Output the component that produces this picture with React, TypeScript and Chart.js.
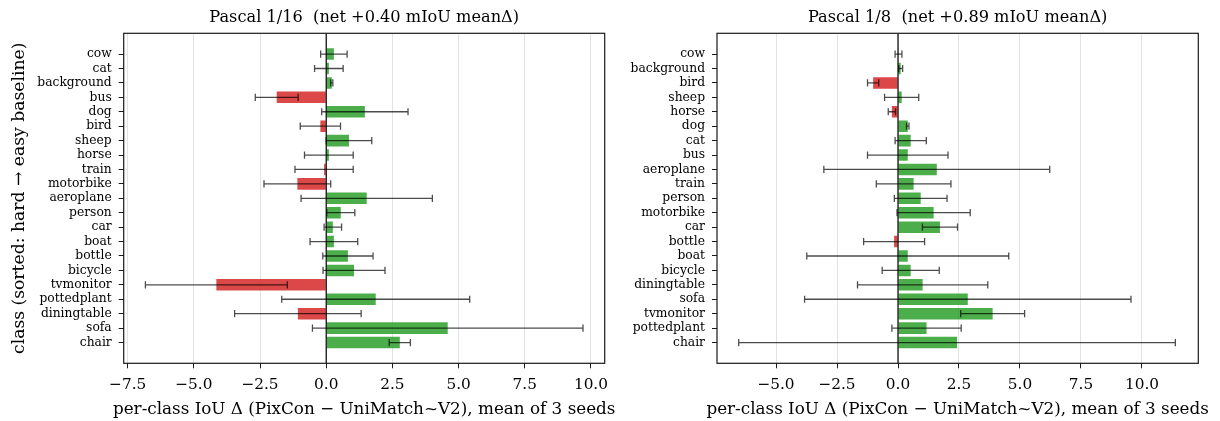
import React, { useEffect, useRef } from "react";
import { Chart, registerables } from "chart.js";

Chart.register(...registerables);

// ---- Data: Pascal 1/16 ----
const labels16 = [
  "cow", "cat", "background", "bus", "dog", "bird", "sheep", "horse", "train",
  "motorbike", "aeroplane", "person", "car", "boat", "bottle", "bicycle",
  "tvmonitor", "pottedplant", "diningtable", "sofa", "chair",
];
const mean16 = [
  0.29, 0.1, 0.21, -1.87, 1.46, -0.22, 0.86, 0.1, -0.08, -1.09, 1.53, 0.55,
  0.25, 0.29, 0.82, 1.05, -4.15, 1.87, -1.07, 4.59, 2.78,
];
const err16 = [
  0.5, 0.54, 0.04, 0.81, 1.63, 0.76, 0.86, 0.92, 1.1, 1.26, 2.48, 0.53, 0.33,
  0.9, 0.95, 1.17, 2.68, 3.55, 2.39, 5.11, 0.4,
];
const xTicks16 = [-7.5, -5, -2.5, 0, 2.5, 5, 7.5, 10];

// ---- Data: Pascal 1/8 ----
const labels8 = [
  "cow", "background", "bird", "sheep", "horse", "dog", "cat", "bus",
  "aeroplane", "train", "person", "motorbike", "car", "bottle", "boat",
  "bicycle", "diningtable", "sofa", "tvmonitor", "pottedplant", "chair",
];
const mean8 = [
  0.02, 0.11, -1.02, 0.15, -0.25, 0.4, 0.52, 0.4, 1.59, 0.64, 0.93, 1.46, 1.72,
  -0.16, 0.4, 0.52, 1.01, 2.86, 3.88, 1.17, 2.42,
];
const err8 = [
  0.14, 0.08, 0.23, 0.7, 0.15, 0.05, 0.64, 1.65, 4.63, 1.53, 1.08, 1.5, 0.72,
  1.25, 4.14, 1.17, 2.67, 6.69, 1.31, 1.42, 8.95,
];
const xTicks8 = [-5, -2.5, 0, 2.5, 5, 7.5, 10];

const title16 = "Pascal 1/16  (net +0.40 mIoU mean\u0394)";
const title8 = "Pascal 1/8  (net +0.89 mIoU mean\u0394)";
const xTitle = "per-class IoU \u0394 (PixCon \u2212 UniMatch~V2), mean of 3 seeds";
const yTitle = "class (sorted: hard \u2192 easy baseline)";

const FONT = "'DejaVu Serif', serif";
const GREEN = "rgba(44,160,44,0.85)";
const RED = "rgba(214,39,40,0.85)";

const fmt = (v: number) => {
  const s = Number(v).toFixed(1);
  return s.startsWith("-") ? "\u2212" + s.slice(1) : s;
};

const panelPlugin = {
  id: "panel",
  afterDatasetsDraw(chart: any, _args: any, opts: any) {
    const { ctx, chartArea: ca, scales } = chart;
    const x = scales.x;
    const y = scales.y;
    ctx.save();
    ctx.beginPath();
    ctx.rect(ca.left, ca.top, ca.right - ca.left, ca.bottom - ca.top);
    ctx.clip();
    // zero line
    const zx = x.getPixelForValue(0);
    ctx.strokeStyle = "#000";
    ctx.lineWidth = 1.2;
    ctx.beginPath();
    ctx.moveTo(zx, ca.top);
    ctx.lineTo(zx, ca.bottom);
    ctx.stroke();
    // error bars
    const means: number[] = opts.means;
    const errs: number[] = opts.errs;
    ctx.strokeStyle = "rgba(0,0,0,0.7)";
    ctx.lineWidth = 1.3;
    for (let i = 0; i < means.length; i++) {
      const py = y.getPixelForValue(i);
      const x1 = x.getPixelForValue(means[i] - errs[i]);
      const x2 = x.getPixelForValue(means[i] + errs[i]);
      ctx.beginPath();
      ctx.moveTo(x1, py);
      ctx.lineTo(x2, py);
      ctx.moveTo(x1, py - 3.6);
      ctx.lineTo(x1, py + 3.6);
      ctx.moveTo(x2, py - 3.6);
      ctx.lineTo(x2, py + 3.6);
      ctx.stroke();
    }
    ctx.restore();
  },
  afterDraw(chart: any, _args: any, opts: any) {
    const { ctx, chartArea: ca } = chart;
    ctx.save();
    ctx.strokeStyle = "#1a1a1a";
    ctx.lineWidth = 1.2;
    ctx.strokeRect(ca.left, ca.top, ca.right - ca.left, ca.bottom - ca.top);
    ctx.fillStyle = "#000";
    ctx.textAlign = "center";
    ctx.textBaseline = "middle";
    const cx = (ca.left + ca.right) / 2;
    ctx.font = `16.2px ${FONT}`;
    ctx.fillText(opts.title, cx, 17.5);
    ctx.font = `16.8px ${FONT}`;
    ctx.fillText(opts.xTitle, cx, 409.6);
    ctx.restore();
  },
};

function makeConfig(
  labels: string[],
  means: number[],
  errs: number[],
  xTicks: number[],
  xmin: number,
  xmax: number,
  title: string,
  showYTitle: boolean,
  yWidth: number,
  rightPad: number
): any {
  return {
    type: "bar",
    data: {
      datasets: [
        {
          data: means.map((v, i) => ({ x: v, y: i })),
          backgroundColor: means.map((v) => (v >= 0 ? GREEN : RED)),
          borderWidth: 0,
          categoryPercentage: 1,
          barPercentage: 0.8,
        },
      ],
    },
    options: {
      indexAxis: "y",
      animation: false,
      responsive: false,
      maintainAspectRatio: false,
      layout: { padding: { top: 33.3, left: 0, right: rightPad, bottom: 0 } },
      plugins: {
        legend: { display: false },
        tooltip: { enabled: false },
        title: { display: false },
        panel: { means, errs, title, xTitle },
      },
      scales: {
        x: {
          type: "linear",
          min: xmin,
          max: xmax,
          offset: false,
          afterBuildTicks: (s: any) => {
            s.ticks = xTicks.map((v) => ({ value: v }));
          },
          afterFit: (s: any) => {
            s.height = 57.7;
            s.paddingLeft = 0;
            s.paddingRight = 0;
          },
          ticks: {
            callback: (v: any) => fmt(v),
            font: { family: FONT, size: 15.3 },
            color: "#000",
            padding: 7.5,
            maxRotation: 0,
            autoSkip: false,
          },
          grid: {
            offset: false,
            color: "#e3e3e3",
            lineWidth: 1,
            tickLength: 5,
            tickColor: "#1a1a1a",
            tickWidth: 1,
          },
          border: { display: false },
          title: { display: false },
        },
        y: {
          type: "linear",
          reverse: true,
          min: -1.44,
          max: 21.44,
          offset: false,
          afterBuildTicks: (s: any) => {
            s.ticks = labels.map((_, i) => ({ value: i }));
          },
          afterFit: (s: any) => {
            s.width = yWidth;
            s.paddingTop = 0;
            s.paddingBottom = 0;
          },
          ticks: {
            callback: (v: any) => labels[Math.round(Number(v))],
            font: { family: FONT, size: 12.3 },
            color: "#000",
            padding: 7,
            autoSkip: false,
          },
          grid: {
            offset: false,
            drawOnChartArea: false,
            tickLength: 5,
            tickColor: "#1a1a1a",
            tickWidth: 1,
          },
          border: { display: false },
          title: {
            display: showYTitle,
            text: yTitle,
            font: { family: FONT, size: 17.2 },
            color: "#000",
            padding: { top: 9.6, bottom: 0 },
          },
        },
      },
    },
    plugins: [panelPlugin],
  };
}

export default function App() {
  const leftRef = useRef<HTMLCanvasElement>(null);
  const rightRef = useRef<HTMLCanvasElement>(null);

  useEffect(() => {
    const c1 = new Chart(
      leftRef.current as HTMLCanvasElement,
      makeConfig(labels16, mean16, err16, xTicks16, -7.65, 10.52, title16, true, 123.7, 35.3)
    );
    const c2 = new Chart(
      rightRef.current as HTMLCanvasElement,
      makeConfig(labels8, mean8, err8, xTicks8, -7.42, 12.31, title8, false, 117, 21.7)
    );
    return () => {
      c1.destroy();
      c2.destroy();
    };
  }, []);

  return (
    <div
      style={{
        position: "fixed",
        left: 0,
        top: 0,
        width: 1220,
        height: 421,
        background: "#fff",
      }}
    >
      <canvas
        ref={leftRef}
        width={640}
        height={421}
        style={{ position: "absolute", left: 0, top: 0 }}
      />
      <canvas
        ref={rightRef}
        width={620}
        height={421}
        style={{ position: "absolute", left: 600, top: 0 }}
      />
    </div>
  );
}
